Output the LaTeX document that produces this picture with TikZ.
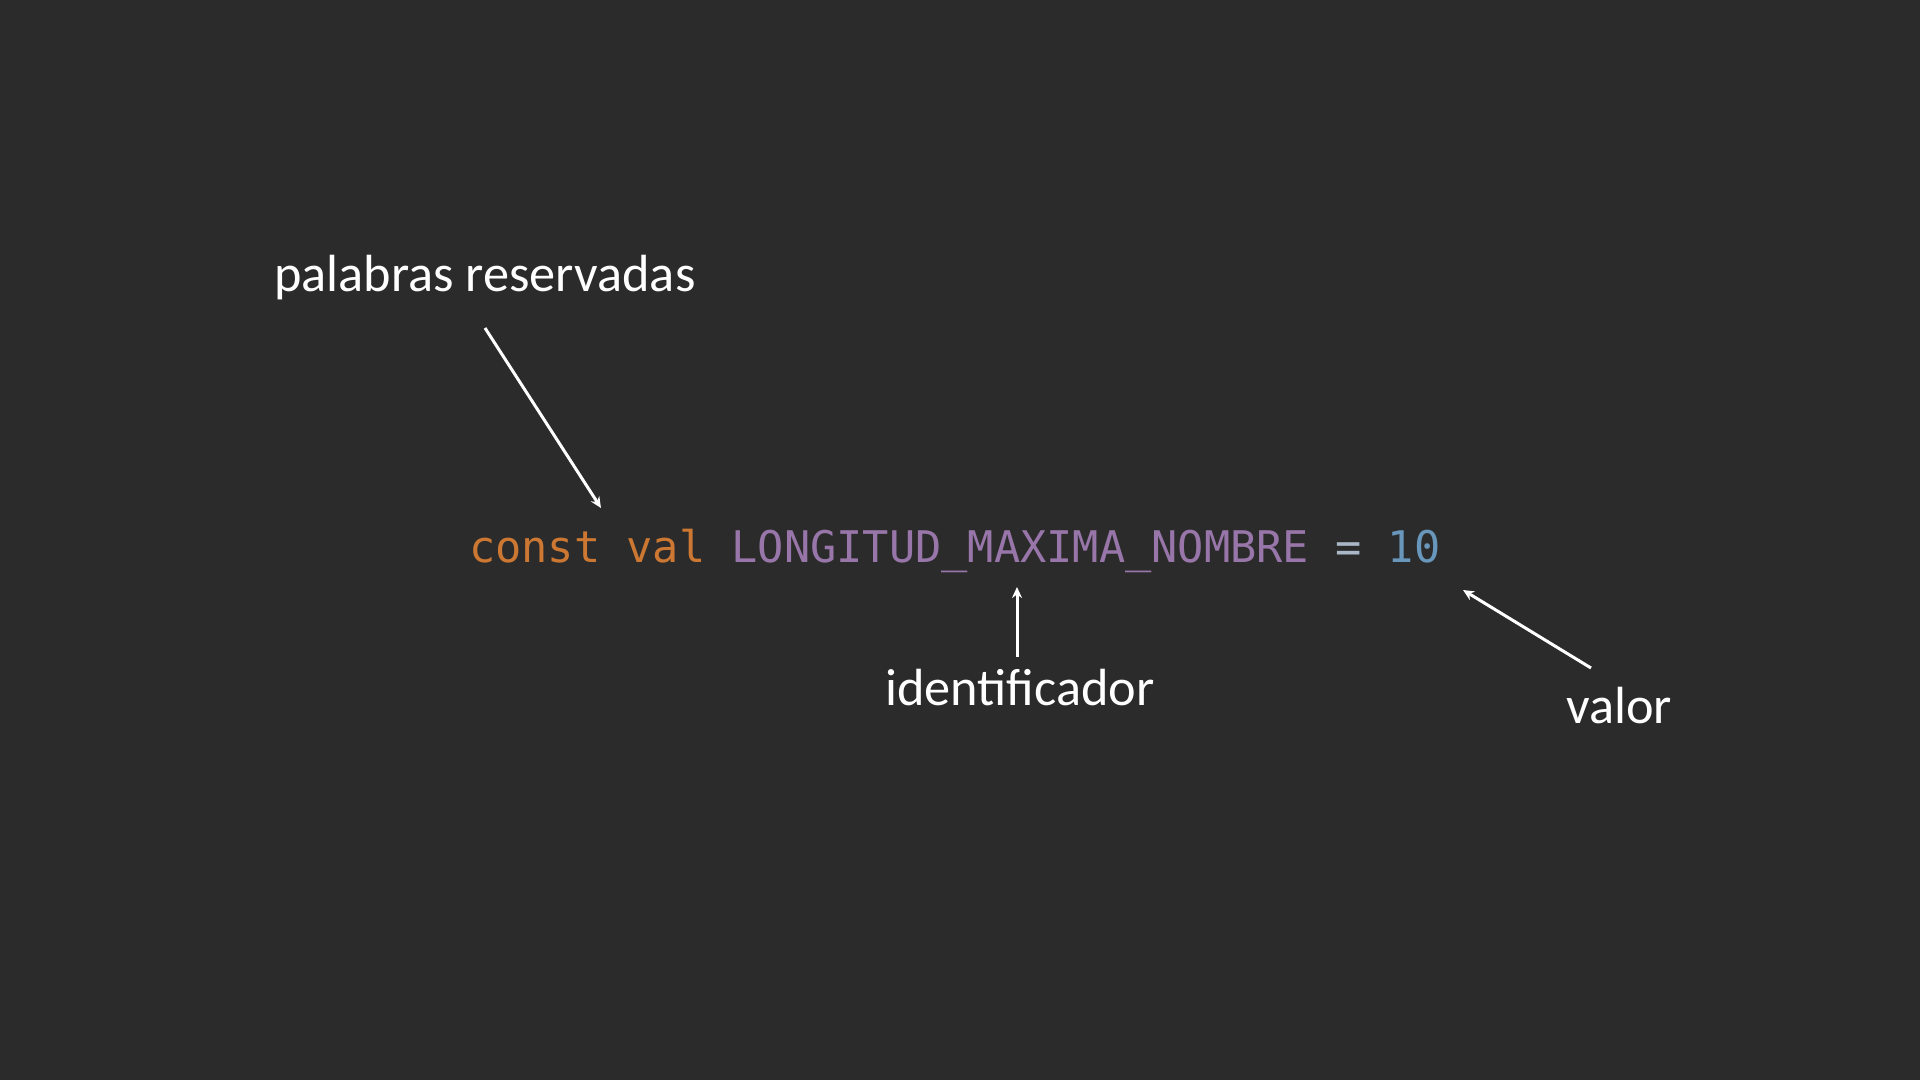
\documentclass[tikz,border=0pt]{standalone}
\usepackage{fontspec}
\setmainfont{Carlito}
\newfontfamily\codefont{DejaVu Sans Mono}
\usetikzlibrary{arrows.meta}
\definecolor{bg}{HTML}{2B2B2B}
\definecolor{kw}{HTML}{CC7832}
\definecolor{ident}{HTML}{9876AA}
\definecolor{opc}{HTML}{A9B7C6}
\definecolor{num}{HTML}{6897BB}
\tikzset{
  label/.style={text=white, inner sep=0pt, font=\fontsize{52.3}{60}\selectfont},
  code/.style={inner sep=0pt, font=\codefont\fontsize{43.6}{50}\selectfont},
  pointer/.style={draw=white, line width=3pt, -{Stealth[length=11pt,width=10pt]}}
}
\begin{document}
\begin{tikzpicture}[x=1pt,y=-1pt]
  \fill[bg] (0,0) rectangle (1920,1080);
  \useasboundingbox (0,0) rectangle (1920,1080);
  \node[code, anchor=base west] (line) at (469,562)
    {\textcolor{kw}{const val} \textcolor{ident}{LONGITUD\_MAXIMA\_NOMBRE} \textcolor{opc}{=} \textcolor{num}{10}};
  \node[label, anchor=base west] (pal) at (274,291) {palabras reservadas};
  \node[label, anchor=base west] (ide) at (885,705) {identificador};
  \node[label, anchor=base west] (val) at (1566,723) {valor};
  \coordinate (palS) at (485,328);
  \coordinate (palE) at (601,508);
  \coordinate (ideS) at (1017,657);
  \coordinate (ideE) at (1017,587);
  \coordinate (valS) at (1591,668);
  \coordinate (valE) at (1463,590);
  \draw[pointer] (palS) -- (palE);
  \draw[pointer] (ideS) -- (ideE);
  \draw[pointer] (valS) -- (valE);
\end{tikzpicture}
\end{document}
